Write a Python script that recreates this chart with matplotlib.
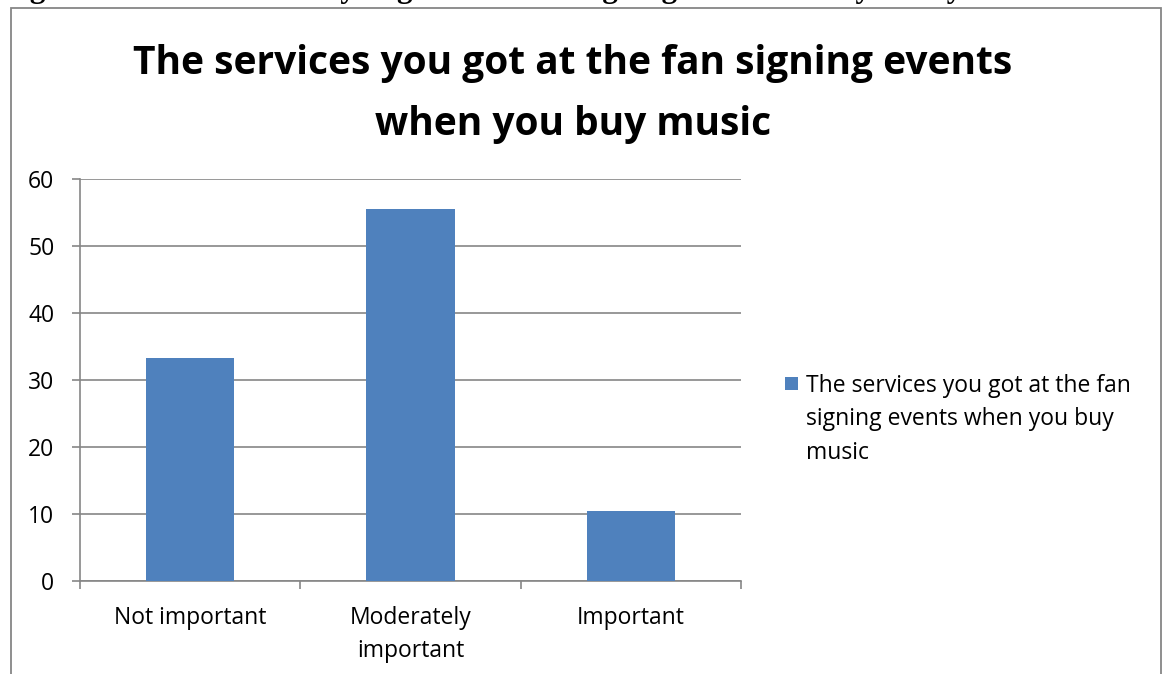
import matplotlib
matplotlib.use("Agg")
import matplotlib.pyplot as plt
from matplotlib.patches import Rectangle

categories = ["Not important", "Moderately\nimportant", "Important"]
values = [33.3, 55.5, 10.5]
series_name = "The services you got at the fan\nsigning events when you buy\nmusic"
title = "The services you got at the fan signing events\nwhen you buy music"
caption = "Figure 3.11: The services you got at the fan signing events when you buy music"
yticks = [0, 10, 20, 30, 40, 50, 60]

BAR = "#4F81BD"
GRID = "#868686"
FONT = "Open Sans"
FS = 16.5

W, H = 1163, 674
fig = plt.figure(figsize=(W / 100, H / 100), dpi=100)
fig.patch.set_facecolor("white")

# caption line of the surrounding document, running off the top edge
fig.text(2 / W, 1 + 3 / H, caption, family="Liberation Serif", weight="bold",
         fontsize=22.5, ha="left", va="baseline", color="black")

# chart frame
fig.patches.append(Rectangle((11 / W, -0.05), (1161 - 11) / W, 1.05 - 8 / H,
                             transform=fig.transFigure, fill=False,
                             edgecolor=GRID, linewidth=1.3))

ax = fig.add_axes([80 / W, 1 - 581 / H, (741 - 80) / W, (581 - 179) / H])
x = range(len(categories))
bars = ax.bar(x, values, width=0.4, color=BAR, zorder=3)
ax.set_xlim(-0.5, len(categories) - 0.5)
ax.set_ylim(0, 60)
ax.set_yticks(yticks)
ax.yaxis.grid(True, color=GRID, linewidth=1.2, zorder=0)
ax.set_xticks([i - 0.5 for i in range(len(categories) + 1)])
ax.set_xticklabels([])
ax.set_xticks(list(x), minor=True)
ax.set_xticklabels(categories, minor=True, family=FONT, fontsize=FS,
                   linespacing=1.5)
ax.tick_params(axis="x", which="minor", length=0, pad=18)
ax.tick_params(axis="x", which="major", length=5.5, color=GRID, width=1.2)
ax.tick_params(axis="y", length=5.5, color=GRID, width=1.2, pad=13, labelsize=FS)
for lab in ax.get_yticklabels():
    lab.set_family(FONT)
for s in ["top", "right"]:
    ax.spines[s].set_visible(False)
for s in ["left", "bottom"]:
    ax.spines[s].set_color(GRID)
    ax.spines[s].set_linewidth(1.2)

fig.text(573 / W, 1 - 94 / H, title, family=FONT, weight="bold", fontsize=28,
         ha="center", va="center", linespacing=1.75)

# legend: swatch beside the first line of the series name
fig.patches.append(Rectangle((785 / W, 1 - 390 / H), 13 / W, 13 / H,
                             transform=fig.transFigure, facecolor=BAR,
                             edgecolor="none"))
fig.text(806 / W, 1 - 374 / H, series_name, family=FONT, fontsize=FS,
         ha="left", va="top", linespacing=1.52)

fig.savefig("out.png", dpi=100, facecolor="white")
